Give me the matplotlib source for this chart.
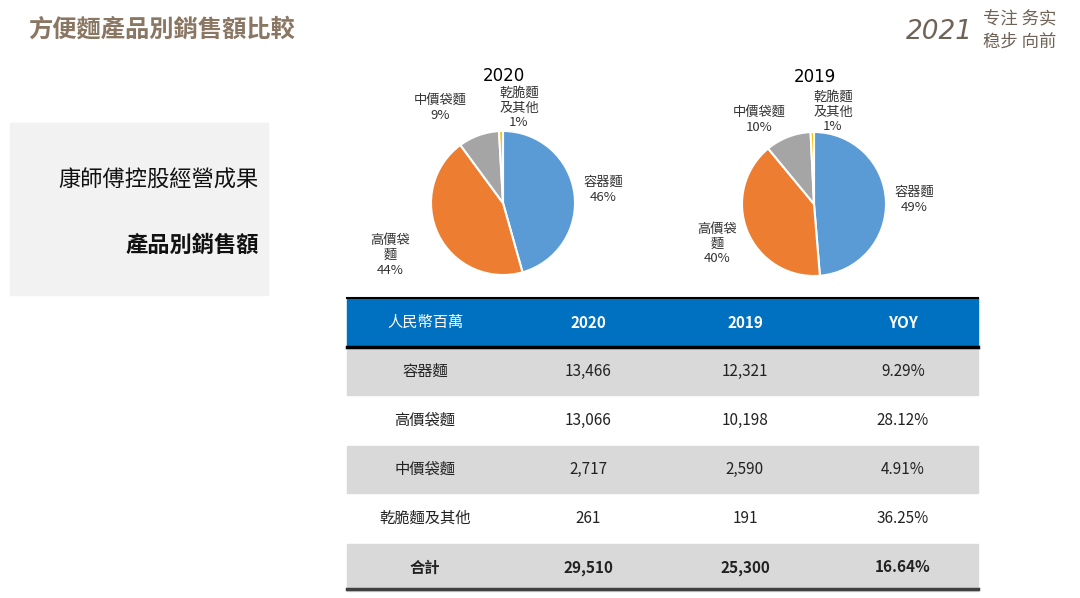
import matplotlib
matplotlib.use("Agg")
import matplotlib.pyplot as plt
from matplotlib.patches import Rectangle

plt.rcParams['font.family'] = ['Noto Sans CJK TC', 'DejaVu Sans']

# data
products = ['容器麵', '高價袋麵', '中價袋麵', '乾脆麵及其他']
sales_2020 = [13466, 13066, 2717, 261]
sales_2019 = [12321, 10198, 2590, 191]
yoy = ['9.29%', '28.12%', '4.91%', '36.25%']
total = ['29,510', '25,300', '16.64%']
header = ['人民幣百萬', '2020', '2019', 'YOY']
pie_labels_2020 = ['容器麵\n46%', '高價袋\n麵\n44%', '中價袋麵\n9%', '乾脆麵\n及其他\n1%']
pie_labels_2019 = ['容器麵\n49%', '高價袋\n麵\n40%', '中價袋麵\n10%', '乾脆麵\n及其他\n1%']
colors = ['#5B9BD5', '#ED7D31', '#A5A5A5', '#FFC000']

W, H = 1080, 598
fig = plt.figure(figsize=(W / 100, H / 100), dpi=100)
bg = fig.add_axes([0, 0, 1, 1])
bg.set_xlim(0, W)
bg.set_ylim(H, 0)
bg.axis('off')

# header texts
brown = '#8A7763'
bg.text(28, 30, '方便麵產品別銷售額比較', fontsize=17.5, fontweight='bold', color=brown, va='center')
bg.text(906, 32, '2021', fontsize=19, style='italic', color='#6f6257', va='center',
        family=['DejaVu Sans'])
bg.text(983, 19, '专注 务实', fontsize=12.5, color='#6f6257', va='center', family=['Noto Sans CJK SC'])
bg.text(983, 42, '稳步 向前', fontsize=12.5, color='#6f6257', va='center', family=['Noto Sans CJK SC'])

# left grey box
bg.add_patch(Rectangle((10, 123), 258, 172, color='#F2F2F2', zorder=0))
bg.text(259, 180, '康師傅控股經營成果', fontsize=16, ha='right', va='center', color='#111111')
bg.text(259, 245, '產品別銷售額', fontsize=16, fontweight='bold', ha='right', va='center',
        color='#111111')


def draw_pie(cx, cy, r, vals, title, labels, label_pos):
    ax = fig.add_axes([(cx - r) / W, (H - cy - r) / H, 2 * r / W, 2 * r / H])
    ax.pie(vals, colors=colors, startangle=90, counterclock=False,
           wedgeprops=dict(edgecolor='white', linewidth=1.5))
    ax.set_xlim(-1, 1)
    ax.set_ylim(-1, 1)
    ax.axis('off')
    bg.text(cx + 1, cy - 127, title, fontsize=12, ha='center', va='center', color='black',
            family=['DejaVu Sans'])
    for lab, (x, y) in zip(labels, label_pos):
        bg.text(x, y, lab, fontsize=9.5, ha='center', va='center', color='#333333',
                linespacing=1.2)


draw_pie(503, 203, 72, sales_2020, '2020', pie_labels_2020,
         [(603, 190), (390, 255), (440, 108), (519, 108)])
draw_pie(814, 204, 72, sales_2019, '2019', pie_labels_2019,
         [(914, 200), (717, 244), (759, 120), (833, 112)])

# table
x0, x1 = 347, 978
col_x = [425, 588, 745, 903]
top, row_h = 298, 49
bg.add_patch(Rectangle((x0, top), x1 - x0, row_h, color='#0070C0', zorder=1))
bg.plot([x0, x1], [top, top], color='black', lw=1.5, zorder=3)
bg.plot([x0, x1], [top + row_h, top + row_h], color='black', lw=2.5, zorder=3)
for j, h in enumerate(header):
    bg.text(col_x[j], top + row_h / 2, h, fontsize=11, color='white', ha='center', va='center',
            fontweight='normal' if j == 0 else 'bold')

rows = [[products[i], f'{sales_2020[i]:,}', f'{sales_2019[i]:,}', yoy[i]] for i in range(4)]
rows.append(['合計'] + total)
for i, row in enumerate(rows):
    y = top + row_h * (i + 1)
    fc = '#D9D9D9' if i % 2 == 0 else 'white'
    bg.add_patch(Rectangle((x0, y + 1), x1 - x0, row_h - 2, color=fc, zorder=1))
    bold = i == len(rows) - 1
    for j, v in enumerate(row):
        bg.text(col_x[j], y + row_h / 2, v, fontsize=11, color='#222222', ha='center',
                va='center', fontweight='bold' if bold else 'normal')
bottom = top + row_h * 6 - 3
bg.plot([x0, x1], [bottom, bottom], color='#404040', lw=2.5, zorder=3)

fig.savefig('out.png', dpi=100)
